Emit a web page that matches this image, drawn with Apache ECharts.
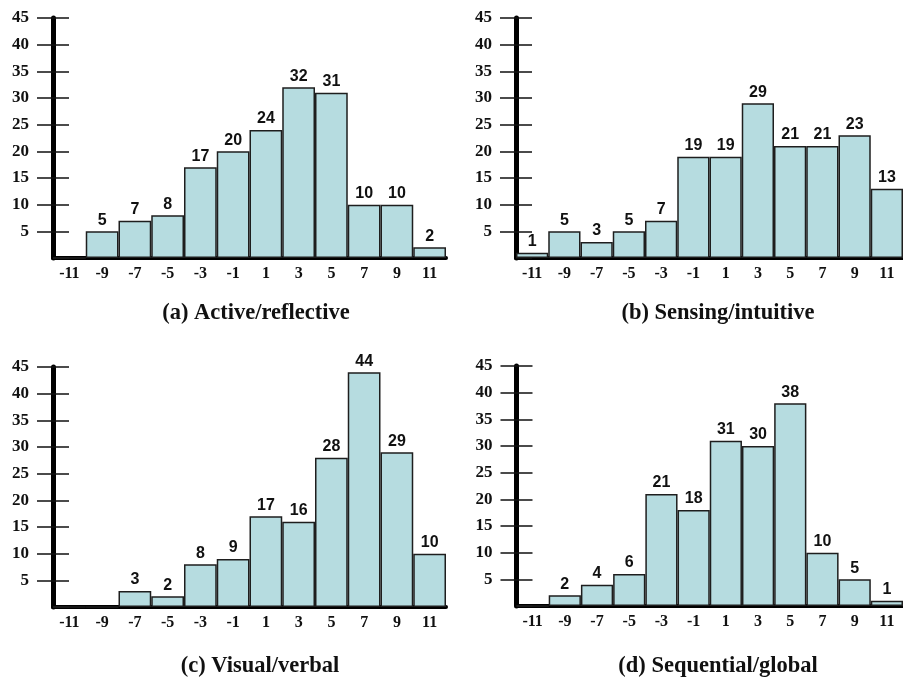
<!DOCTYPE html>
<html lang="en">
<head>
    <meta charset="UTF-8">
    <title>learning styles</title>
    <script src="https://cdn.jsdelivr.net/npm/echarts@6/dist/echarts.min.js"></script>
</head>
<body style="margin:0;background:#fff">
<div id="main" style="width: 903px;height:682px;"></div>
<script>
    const scores = ['-11', '-9', '-7', '-5', '-3', '-1', '1', '3', '5', '7', '9', '11'];
    const activeReflective = [0, 5, 7, 8, 17, 20, 24, 32, 31, 10, 10, 2];
    const sensingIntuitive = [1, 5, 3, 5, 7, 19, 19, 29, 21, 21, 23, 13];
    const visualVerbal = [0, 0, 3, 2, 8, 9, 17, 16, 28, 44, 29, 10];
    const sequentialGlobal = [0, 2, 4, 6, 21, 18, 31, 30, 38, 10, 5, 1];
    const panelTitles = ['(a) Active/reflective', '(b) Sensing/intuitive', '(c) Visual/verbal', '(d) Sequential/global'];

    const panels = [activeReflective, sensingIntuitive, visualVerbal, sequentialGlobal];
    const grids = [
        {left: 53, top: 18, width: 393, height: 240},
        {left: 516, top: 18, width: 393, height: 240},
        {left: 53, top: 367, width: 393, height: 240},
        {left: 516.5, top: 366, width: 393, height: 240}
    ];
    const titlePos = [[251, 297], [713, 297], [255, 650], [713, 650]];

    const serif = 'Liberation Serif';
    const myChart = echarts.init(document.getElementById('main'));

    const xAxis = [], yAxis = [], series = [], title = [];
    panels.forEach(function (values, i) {
        xAxis.push({
            type: 'category',
            gridIndex: i,
            data: scores,
            axisLine: {lineStyle: {color: '#000', width: 4}},
            axisTick: {show: false},
            axisLabel: {
                margin: 8, color: '#111',
                fontFamily: serif, fontWeight: 'bold', fontSize: 16
            }
        });
        // ticks crossing the axis: main axis draws line + inner half,
        // a twin axis shifted 16px left draws the outer half and the labels
        yAxis.push({
            type: 'value',
            gridIndex: i,
            position: 'left',
            min: 0, max: 45, interval: 5,
            axisLine: {show: true, lineStyle: {color: '#000', width: 5}},
            axisTick: {show: true, inside: true, length: 16, lineStyle: {color: '#111', width: 1.5}},
            splitLine: {show: false},
            axisLabel: {show: false}
        });
        yAxis.push({
            type: 'value',
            gridIndex: i,
            position: 'left',
            offset: 16,
            min: 0, max: 45, interval: 5,
            axisLine: {show: false},
            axisTick: {show: true, inside: true, length: 16, lineStyle: {color: '#111', width: 1.5}},
            splitLine: {show: false},
            axisLabel: {
                margin: 8, color: '#111', showMinLabel: false,
                fontFamily: serif, fontWeight: 'bold', fontSize: 17
            }
        });
        series.push({
            type: 'bar',
            xAxisIndex: i,
            yAxisIndex: i * 2,
            data: values,
            barCategoryGap: 0,
            itemStyle: {color: '#b6dce0', borderColor: '#1e1e1e', borderWidth: 1.5},
            label: {
                show: true,
                position: 'top',
                distance: 3,
                color: '#111',
                fontFamily: 'Liberation Sans',
                fontWeight: 'bold',
                fontSize: 16,
                formatter: function (p) {
                    return p.value > 0 ? p.value : '';
                }
            }
        });
        title.push({
            text: panelTitles[i],
            left: titlePos[i][0],
            top: titlePos[i][1],
            textAlign: 'center',
            textStyle: {fontFamily: serif, fontWeight: 'bold', fontSize: 22.5, color: '#111'}
        });
    });

    const option = {
        animation: false,
        title: title,
        grid: grids,
        xAxis: xAxis,
        yAxis: yAxis,
        series: series
    };
    myChart.setOption(option);
</script>
</body>
</html>
